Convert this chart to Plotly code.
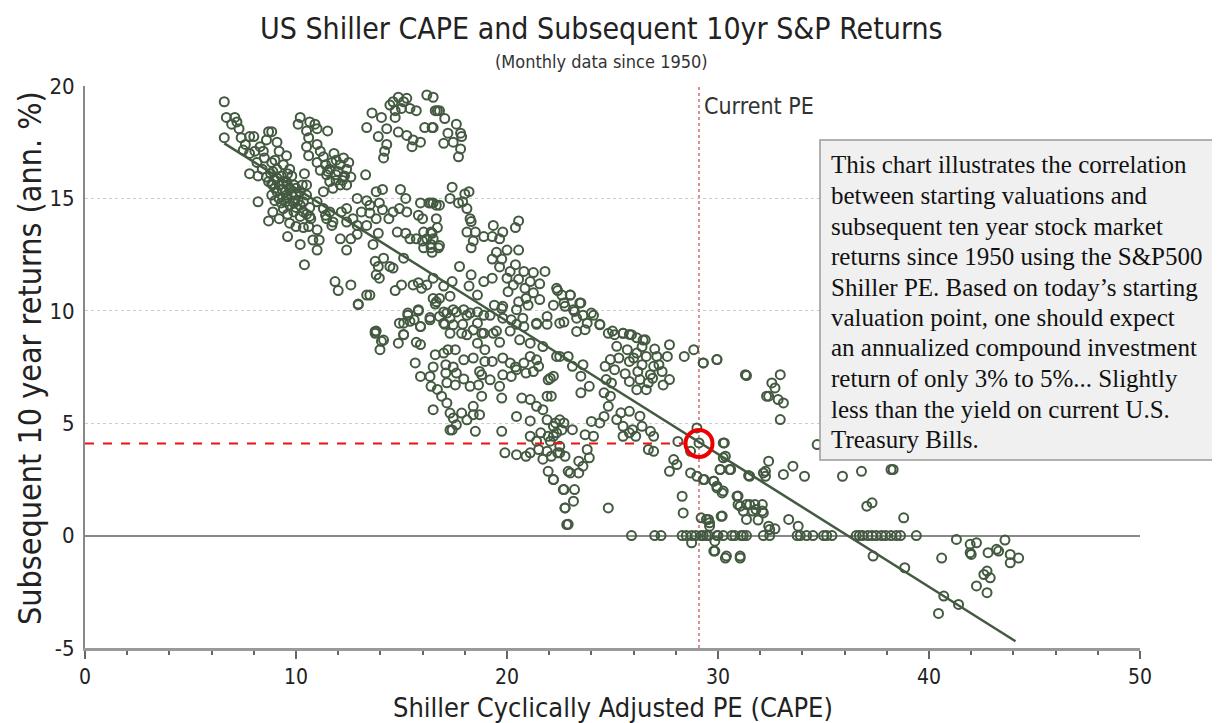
import plotly.graph_objects as go

# ---------------- data: (Shiller CAPE, subsequent 10yr annualised return %) ----------------
band_low_cape = [
    (6.6,19.3),(6.7,18.6),(7.1,18.6),(7.2,18.4),(6.95,18.3),(7.3,18.1),(6.6,17.7),
    (7.4,17.7),(7.8,17.75),(8.0,17.75),(7.6,17.4),(7.8,17.0),(7.5,17.15),
    (8.7,17.97),(8.85,17.97),(8.6,17.6),(9.1,17.5),(9.2,17.1),(8.45,17.1),(8.05,17.1),
    (9.55,16.9),(8.15,16.6),(8.85,16.6),(8.4,16.3),(7.8,16.1),(8.8,16.1),(9.1,16.3),
    (9.7,16.3),(9.3,16.0),(8.7,15.75),(8.9,15.6),(9.2,15.6),(9.55,15.75),(9.9,15.6),
    (9.8,16.0),(10.2,15.3),(9.5,15.3),(9.1,15.3),(8.85,15.15),(8.2,14.85),(9.55,15.0),
    (9.95,14.9),(9.7,14.7),(10.0,14.6),(10.35,14.85),(10.5,15.15),(9.4,14.55),(8.9,14.4),
    (8.7,14.0),(9.2,14.1),(9.6,14.3),(9.9,14.4),(10.2,14.2),(10.35,14.4),(10.65,14.6),
    (10.65,14.2),(9.7,13.9),(10.0,13.75),(10.35,13.7),(10.6,13.75),(11.0,13.6),(9.6,13.3),
    (10.2,12.95),(10.8,13.15),(11.1,13.15),(11.0,12.7),(10.4,12.05),(10.7,14.1),
    (8.9,16.2),(9.1,15.9),(9.4,15.75),(9.7,15.45),(10.0,15.15),(9.55,15.15),(9.2,15.0),
    (9.9,14.8),(10.2,14.7),(9.8,15.15),(8.85,15.65),(8.6,15.95),(9.0,15.45),(9.35,15.4),
    (10.0,15.45),(9.6,15.6),(9.5,14.85),(10.1,14.9),(8.3,17.3),(8.5,16.8),(9.0,16.7),
    (9.4,16.5),(8.2,16.0),(9.6,16.1),(10.3,15.6),(9.3,14.8),(9.0,14.9),(10.5,14.3),
]

lobe_mid_1950s = [
    (10.2,18.6),(10.1,18.3),(10.65,18.4),(10.9,18.3),(11.0,18.1),(10.5,18.0),(11.5,18.0),
    (10.6,17.7),(10.5,17.3),(10.6,16.9),(11.0,17.4),(11.15,17.1),(11.3,16.85),(11.8,17.0),
    (11.9,16.7),(11.0,16.6),(11.4,16.5),(11.6,16.3),(12.1,16.5),(12.4,16.3),(12.6,15.95),
    (12.25,15.95),(11.9,16.05),(11.45,16.05),(11.15,16.25),(11.6,15.75),(12.1,15.6),
    (12.4,15.6),(11.75,15.45),(11.3,15.3),(10.4,16.1),(10.5,15.6),(13.3,16.05),(12.25,16.8),
    (12.5,16.6),(11.5,16.2),(11.9,15.8),(12.0,16.2),(12.3,16.0),(11.7,16.6),(12.2,15.8),
    (11.0,14.85),(11.3,14.55),(11.6,14.4),(11.45,14.1),(11.7,13.8),(11.4,14.25),(11.75,13.95),
    (12.15,14.4),(12.4,14.55),(12.9,15.0),(13.35,14.9),(13.8,15.3),(14.1,15.4),(13.5,14.7),
    (13.95,14.8),(13.1,14.4),(13.5,14.35),(12.7,14.1),(12.4,13.95),(12.9,13.8),(13.8,14.1),
    (13.35,13.8),(14.1,14.5),(12.1,13.2),(12.6,13.2),(12.4,12.7),(12.9,13.4),(13.65,12.95),
    (13.9,13.45),(14.4,14.1),(14.6,14.4),(14.9,14.55),(15.25,14.4),(14.95,15.4),(15.2,15.0),
    (14.8,13.5),(15.2,13.45),(15.4,13.2),(15.7,13.2),(16.0,13.1),(16.2,13.2),(16.45,13.45),
    (16.7,13.7),(16.05,13.5),(16.4,12.95),(16.05,12.8),(16.45,12.6),(16.8,12.9),(15.8,14.25),
    (16.0,14.1),(16.3,14.8),(16.5,14.8),(15.9,14.8),(16.65,14.7),
]

upper_cluster = [
    (14.85,19.5),(15.25,19.45),(16.2,19.6),(14.45,19.15),(14.7,18.9),(15.0,19.0),(15.4,19.0),
    (15.7,18.9),(13.6,18.8),(14.05,18.6),(14.7,18.6),(13.35,18.15),(13.9,17.75),(14.3,18.1),
    (14.85,17.95),(15.25,17.8),(15.55,17.6),(15.9,17.5),(15.5,17.3),(14.3,17.4),(14.2,17.1),
    (14.15,16.8),(16.1,18.15),(16.45,18.15),(16.7,18.9),(15.1,19.3),(14.6,19.3),
    (16.5,19.5),(16.6,18.9),(16.8,18.9),(17.05,18.55),(16.5,18.15),(17.2,17.9),(17.6,18.3),
    (17.8,17.9),(17.85,17.75),(17.45,17.5),(17.0,17.45),(17.8,17.2),(17.7,16.85),
]

mid_returns = [
    (13.75,12.2),(13.9,11.97),(14.15,12.34),(14.45,11.97),(13.8,11.6),(13.95,11.45),
    (14.6,11.9),(15.1,12.34),(11.85,11.3),(12.0,10.9),(12.6,11.15),(13.35,10.7),(13.5,10.7),
    (12.95,10.3),(14.7,10.9),(15.0,11.15),(15.55,11.15),(15.8,11.25),(15.95,11.0),(16.2,11.15),
    (16.5,10.55),(16.6,10.3),(15.3,9.8),(15.6,9.6),(15.8,10.0),(15.1,9.45),(15.9,9.3),
    (16.35,9.7),(13.8,9.1),(14.15,8.7),(15.1,8.95),(15.7,8.6),
    (17.4,15.5),(17.3,15.0),(18.0,15.2),(18.2,15.3),(17.7,14.8),(17.9,14.85),(18.1,14.55),
    (18.25,14.1),(18.3,13.97),(18.1,13.5),(18.5,13.5),(18.9,13.3),(18.4,13.1),(18.3,12.8),
    (19.35,13.8),(19.8,13.5),(19.65,13.2),(20.55,14.0),(20.4,13.7),(19.3,13.3),(19.5,12.6),
    (20.0,12.7),(20.55,12.7),(19.75,12.3),(19.65,11.95),(19.3,12.3),(20.4,12.05),(20.15,11.75),
    (20.8,11.75),(21.25,11.7),(21.8,11.75),(17.75,11.97),(18.3,11.6),(19.3,11.45),(18.9,11.3),
    (20.0,11.45),(20.55,11.4),(21.1,11.3),(21.55,11.2),(20.3,11.15),(18.2,11.1),(18.6,10.7),
    (17.4,11.3),(17.0,11.1),(20.05,10.85),(20.85,11.0),(21.25,10.8),(20.9,10.55),(20.55,10.4),
    (21.0,10.25),(21.55,10.5),(22.35,11.0),(22.6,10.7),(23.0,10.7),(23.45,10.35),(22.2,10.25),
    (22.75,10.2),(23.15,10.05),(23.6,9.8),(24.1,9.8),(23.3,9.67),(22.7,9.5),(24.4,9.4),
    (25.0,9.1),(25.5,9.0),(25.8,8.95),(26.45,8.7),(26.15,8.8),(21.9,9.4),(21.4,9.4),
    (20.75,9.67),(20.45,9.4),(19.8,9.67),(19.2,9.8),(19.4,10.25),(19.75,10.1),(18.9,9.8),
    (18.6,9.95),(18.1,9.8),(17.9,9.4),(17.6,9.95),(17.3,9.67),(17.0,9.95),(16.65,10.4),
    (16.8,10.55),(17.3,10.65),(16.5,11.45),(17.05,9.4),(17.3,9.0),(18.4,9.15),(18.8,9.0),
    (19.5,9.1),(20.15,9.1),(19.65,8.6),(16.4,14.8),(16.8,14.7),(16.65,14.1),(16.4,13.5),
    (16.5,13.2),(16.75,12.8),(16.4,12.8),
]

low_returns_1970s = [
    (12.95,10.27),(13.75,9.08),(13.75,9.0),(14.05,8.64),(13.98,8.27),(14.85,8.56),(15.1,8.93),
    (14.9,9.45),(15.4,9.53),(15.3,9.9),(15.8,10.05),(15.9,9.3),(16.35,9.6),(15.9,8.5),
    (15.65,7.68),(15.9,7.08),(16.35,7.08),(16.5,7.5),(16.4,6.64),(16.7,6.5),(16.5,5.6),
    (16.9,6.2),(17.15,5.9),(17.3,5.45),(17.45,5.23),(17.3,4.7),(17.6,4.93),(17.85,5.45),
    (18.1,5.15),(18.4,5.75),(18.4,5.38),(18.7,5.38),(18.5,4.64),(16.6,8.05),(17.0,8.12),
    (17.2,8.27),(17.55,8.27),(17.1,7.6),(17.45,7.5),(17.6,7.23),(17.1,7.23),(17.15,6.8),
    (17.55,6.7),(17.95,6.97),(18.25,6.64),(18.65,6.7),(18.8,7.15),(19.2,6.93),(18.8,6.2),
    (18.4,7.9),(18.95,7.75),(19.3,7.75),(17.95,7.82),(18.7,7.3),(16.8,9.75),(17.15,9.9),
    (17.45,10.05),(17.95,10.05),(18.25,9.9),(17.0,9.45),(17.45,9.38),(17.85,9.0),(18.1,8.93),
    (18.6,9.45),(18.9,9.0),(19.35,9.0),(18.6,8.56),(18.95,8.27),(19.8,7.9),(20.15,7.68),
    (20.4,7.5),(19.8,7.15),(20.2,7.08),(19.65,6.64),(19.75,6.12),(20.45,7.38),(20.8,7.68),
    (21.1,7.97),(21.4,7.82),(21.25,7.3),(20.9,7.23),(21.5,7.53),(20.7,6.12),(21.1,6.05),
    (21.9,6.2),(22.05,7.0),(21.95,6.93),(20.45,5.3),(21.1,5.1),(21.4,5.75),(21.7,5.6),
    (21.9,5.15),(22.2,4.86),(22.5,5.15),(21.1,4.42),(21.6,4.57),(21.95,4.42),(22.35,4.57),
    (22.6,4.7),(19.75,4.64),(17.4,4.7),(19.9,3.68),(20.45,3.6),(21.1,3.68),(21.5,3.83),
    (21.9,3.75),(21.7,3.4),(22.1,3.53),(22.5,3.68),(21.95,2.86),(22.2,2.49),(22.67,2.05),
    (22.75,1.23),(22.83,0.49),(22.9,2.86),(20.9,3.53),(21.4,4.2),(22.05,4.2),(20.45,10.05),
    (20.8,9.3),(21.4,9.45),(21.9,9.75),(22.5,9.45),(20.6,8.71),(21.1,8.56),(21.7,8.41),
    (22.35,7.97),(19.8,10.2),(20.2,9.6),
]

late_cycle = [
    (22.4,10.9),(23.0,10.7),(22.7,10.35),(23.5,10.35),(23.2,9.97),(24.0,9.9),(23.8,9.45),
    (24.4,9.38),(23.3,9.08),(23.7,9.16),(24.8,9.0),(25.1,8.94),(25.5,9.0),(25.9,8.94),
    (26.55,8.71),(25.2,8.42),(25.7,8.27),(26.15,8.12),(26.6,7.97),(27.1,7.97),(27.6,7.97),
    (27.7,8.49),(25.8,7.75),(26.4,7.6),(26.95,7.53),(27.35,7.3),(27.7,6.94),(26.8,7.16),
    (26.3,6.94),(25.8,6.86),(26.15,6.49),(26.6,6.49),(24.9,7.83),(24.65,7.53),(25.1,7.38),
    (24.7,6.94),(24.95,6.79),(28.4,7.97),(28.85,8.27),(29.3,7.68),(29.95,7.83),(31.3,7.16),
    (32.3,6.2),(22.5,7.97),(22.9,7.97),(23.1,7.53),(23.5,7.09),(23.6,7.6),(22.2,7.09),
    (22.1,6.2),(23.5,6.35),(23.9,6.64),(24.6,6.35),(24.9,6.2),(24.8,5.75),(24.6,5.3),
    (24.0,5.08),(24.4,5.01),(25.2,5.16),(25.4,5.46),(25.8,5.53),(26.3,5.31),(25.5,4.86),
    (25.95,4.71),(26.4,4.86),(26.8,4.64),(26.95,4.42),(25.5,4.42),(25.8,4.57),(26.1,4.42),
    (26.7,3.83),(26.95,3.75),(23.7,4.49),(24.1,4.42),(23.1,4.71),(22.7,5.01),(22.3,5.01),
    (22.2,4.42),(22.5,3.97),(22.4,3.68),(22.75,3.53),(23.8,3.83),(23.4,3.31),(23.9,3.46),
    (23.6,3.09),(23.0,2.79),(23.4,2.79),(22.2,2.49),(22.7,2.05),(23.2,2.05),(23.15,1.53),
    (22.75,1.23),(22.9,0.5),(24.8,1.23),(28.1,4.19),(29.0,4.79),(29.1,4.12),(28.7,3.75),
    (27.9,3.38),(28.05,3.16),(27.7,2.86),(28.7,2.79),(29.0,2.64),(29.3,2.49),(30.3,4.12),
    (30.25,3.46),(30.1,2.94),(30.6,2.94),(29.8,2.42),(29.95,2.12),(30.25,1.98),(31.5,2.64),
    (32.15,2.79),(30.9,1.75),(31.05,1.31),(31.5,1.38),(31.8,1.16),(32.15,1.01),(32.4,0.42),
    (28.3,1.75),(28.35,1.01),(29.2,0.79),(29.55,0.72),(29.6,0.42),(30.15,0.86),(31.35,0.72),
    (28.75,-0.32),(29.8,-0.69),(30.4,-0.91),(31.05,-0.91),(29.85,-0.25),
    (26.2,7.3),(26.9,7.0),(27.2,7.6),(25.6,7.2),(26.0,7.9),(27.0,8.3),(26.4,8.4),
    (25.3,7.9),(27.4,6.7),(26.7,6.8),
]

high_cape = [
    (29.3,7.68),(29.95,7.83),(31.35,7.12),(32.55,6.79),(32.95,7.16),(32.7,6.57),(32.4,6.2),
    (32.85,6.05),(33.1,5.9),(32.95,5.16),(30.25,4.12),(30.35,3.53),(30.1,2.94),(30.55,2.94),
    (31.45,2.67),(32.25,2.86),(32.25,2.64),(32.4,3.31),(33.1,2.72),(33.55,3.09),(34.1,2.64),
    (34.7,4.05),(35.9,2.64),(36.8,2.86),(38.3,2.94),(29.35,2.49),(29.8,2.42),(29.95,2.2),
    (30.2,1.9),(30.95,1.76),(30.95,1.38),(31.35,1.38),(31.75,1.38),(32.1,1.38),(31.2,1.09),
    (31.65,1.09),(32.1,1.09),(31.9,0.69),(30.2,0.87),(32.45,0.27),(32.7,0.3),(33.35,0.72),
    (33.8,0.42),(37.05,1.31),(37.3,1.46),(38.8,0.79),(29.45,0.72),(29.6,0.57),(29.85,-0.69),
    (30.35,-1.0),(31.05,-1.0),(37.35,-0.91),(38.85,-1.43),(40.6,-1.0),(40.7,-2.69),
    (40.45,-3.46),(41.4,-3.06),(41.3,-0.17),(41.95,-0.39),(42.25,-0.32),(41.95,-0.76),
    (42.0,-0.84),(42.8,-0.76),(43.2,-0.61),(43.3,-0.69),(43.6,-0.2),(43.85,-0.84),
    (43.85,-1.21),(44.25,-1.0),(42.6,-1.73),(42.75,-1.58),(42.9,-1.88),(42.25,-2.24),
    (42.75,-2.54),(38.2,2.94),
]

zero_return = [
    (25.9,0.0),(27.0,0.0),(27.3,0.0),(28.3,0.0),(28.5,0.0),(28.75,0.0),(28.95,0.0),
    (29.2,0.0),(29.45,0.0),(29.95,0.0),(30.25,0.0),(30.65,0.0),(31.1,0.0),(31.35,0.0),
    (32.15,0.0),(29.3,0.0),(29.55,0.0),(30.0,0.0),(30.8,0.0),(31.2,0.0),(32.45,0.0),
    (33.75,0.0),(33.9,0.0),(34.2,0.0),(34.5,0.0),(35.0,0.0),(35.15,0.0),(35.4,0.0),
    (36.55,0.0),(36.7,0.0),(36.85,0.0),(37.1,0.0),(37.3,0.0),(37.5,0.0),(37.75,0.0),
    (37.95,0.0),(38.2,0.0),(38.45,0.0),(38.65,0.0),(39.4,0.0),
]

# regression line end points
trend_cape = [6.6, 44.1]
trend_ret = [17.45, -4.7]

current_pe = 29.1
current_ret = 4.1

x_ticks = [0, 10, 20, 30, 40, 50]
y_ticks = [-5, 0, 5, 10, 15, 20]
y_tick_labels = ["-5", "0", "5", "10", "15", "20"]

note_lines = [
    "This chart illustrates the correlation",
    "between starting valuations and",
    "subsequent ten year stock market",
    "returns since 1950 using the S&amp;P500",
    "Shiller PE. Based on today\u2019s starting",
    "valuation point, one should expect",
    "an annualized compound investment",
    "return of only 3% to 5%... Slightly",
    "less than the yield on current U.S.",
    "Treasury Bills.",
]

# ---------------- layout geometry (figure pixels) ----------------
FIG_W, FIG_H = 1212, 715          # page body adds an 8px offset
M_L, M_R, M_T, M_B = 77, 80, 78, 75
PLOT_W = FIG_W - M_L - M_R
PLOT_H = FIG_H - M_T - M_B


def px_x(fx):
    return (fx - M_L) / PLOT_W


def px_y(fy):
    return 1 - (fy - M_T) / PLOT_H


# ---------------- figure ----------------
points = (band_low_cape + lobe_mid_1950s + upper_cluster + mid_returns +
          low_returns_1970s + late_cycle + high_cape + zero_return)
xs = [p[0] for p in points]
ys = [p[1] for p in points]

SANS = "DejaVu Sans Condensed, Liberation Sans Narrow, DejaVu Sans, sans-serif"
SERIF = "Liberation Serif, Times New Roman, serif"
GREEN = "#435a40"
TXT = "#222222"

fig = go.Figure()

fig.add_trace(go.Scatter(
    x=xs, y=ys, mode="markers",
    marker=dict(symbol="circle-open", size=9, color=GREEN, line=dict(width=2, color=GREEN)),
    hoverinfo="skip", showlegend=False,
))

fig.add_trace(go.Scatter(
    x=trend_cape, y=trend_ret, mode="lines",
    line=dict(color=GREEN, width=2.5), hoverinfo="skip", showlegend=False,
))

# red dashed line to current point
fig.add_trace(go.Scatter(
    x=[0, current_pe - 0.6], y=[current_ret, current_ret], mode="lines",
    line=dict(color="#ee1111", width=2, dash="dash"), hoverinfo="skip", showlegend=False,
))
fig.add_trace(go.Scatter(
    x=[current_pe], y=[current_ret], mode="markers",
    marker=dict(symbol="circle-open", size=27, color="#ee0000", line=dict(width=4, color="#ee0000")),
    hoverinfo="skip", showlegend=False,
))

fig.add_shape(type="line", xref="x", yref="y", x0=current_pe, x1=current_pe, y0=-5, y1=20,
              line=dict(color="#b22222", width=1, dash="dot"), layer="below")

fig.add_annotation(
    x=current_pe + 0.15, y=19.1, xref="x", yref="y", text="Current PE", showarrow=False,
    xanchor="left", yanchor="middle", font=dict(family=SANS, size=23, color="#333333"),
)

# explanatory note box
fig.add_shape(
    type="rect", xref="paper", yref="paper",
    x0=px_x(812), x1=px_x(1213), y0=px_y(132), y1=px_y(452),
    fillcolor="#f0f0f0", line=dict(color="#999999", width=1.5), layer="above",
)
for i, line in enumerate(note_lines):
    fig.add_annotation(
        x=px_x(821), y=px_y(157 + 30.5 * i), xref="paper", yref="paper",
        xanchor="left", yanchor="middle", showarrow=False, text=line,
        font=dict(family=SERIF, size=25, color="#111111"),
    )

# titles
fig.add_annotation(
    x=0.5, y=1.0, xref="paper", yref="paper", xshift=-11, yshift=58,
    xanchor="center", yanchor="middle", showarrow=False,
    text="US Shiller CAPE and Subsequent 10yr S&amp;P Returns",
    font=dict(family=SANS, size=30, color=TXT),
)
fig.add_annotation(
    x=0.5, y=1.0, xref="paper", yref="paper", xshift=-11, yshift=25,
    xanchor="center", yanchor="middle", showarrow=False,
    text="(Monthly data since 1950)",
    font=dict(family=SANS, size=18, color="#333333"),
)
fig.add_annotation(
    x=0.5, y=0.0, xref="paper", yref="paper", yshift=-59,
    xanchor="center", yanchor="middle", showarrow=False,
    text="Shiller Cyclically Adjusted PE (CAPE)",
    font=dict(family=SANS, size=27, color=TXT),
)
fig.add_annotation(
    x=0.0, y=0.5, xref="paper", yref="paper", xshift=-55, yshift=9,
    xanchor="center", yanchor="middle", showarrow=False, textangle=-90,
    text="Subsequent 10 year returns (ann. %)",
    font=dict(family=SANS, size=32, color=TXT),
)

fig.update_layout(
    width=FIG_W, height=FIG_H,
    paper_bgcolor="white", plot_bgcolor="white",
    margin=dict(l=M_L, r=M_R, t=M_T, b=M_B),
    xaxis=dict(
        range=[0, 50], tickvals=x_ticks, showgrid=False, zeroline=False, automargin=False,
        showline=True, linecolor="#999999", linewidth=3,
        ticks="outside", ticklen=8, tickwidth=1.5, tickcolor="#666666",
        minor=dict(ticks="outside", dtick=2, tick0=0, ticklen=4, tickcolor="#666666", tickwidth=1.5),
        tickfont=dict(family=SANS, size=21, color=TXT),
        ticklabelstandoff=0,
    ),
    yaxis=dict(
        range=[-5, 20], tickvals=y_ticks, ticktext=y_tick_labels, automargin=False,
        showgrid=True, gridcolor="#cccccc", griddash="dot", gridwidth=1,
        zeroline=True, zerolinecolor="#888888", zerolinewidth=1.5,
        showline=True, linecolor="#888888", linewidth=2,
        ticks="", tickfont=dict(family=SANS, size=22, color=TXT),
        ticklabelstandoff=4,
    ),
)

fig.write_html("out.html")
